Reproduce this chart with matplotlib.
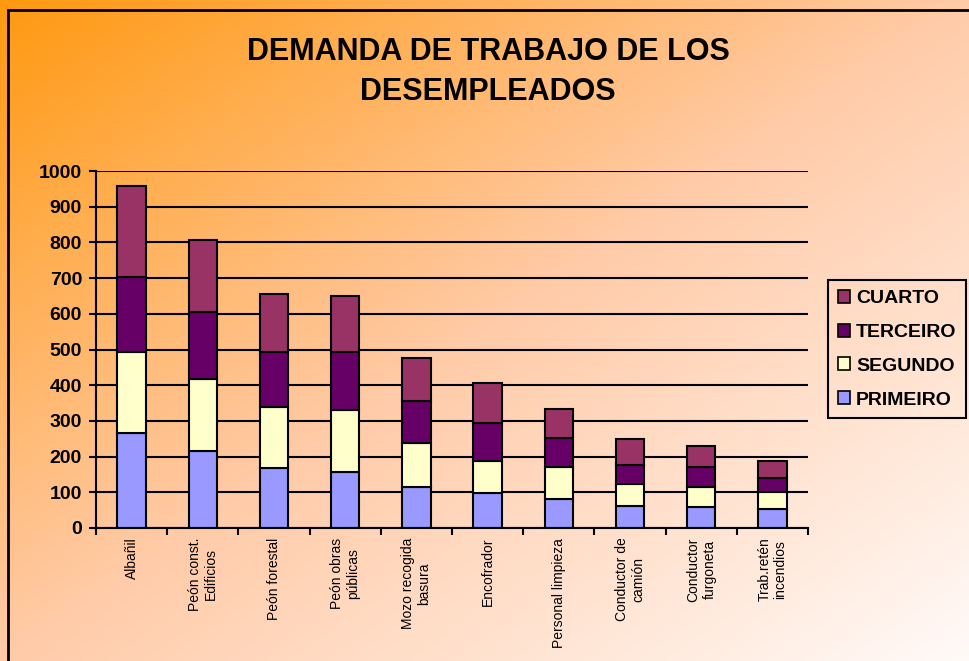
import numpy as np
import matplotlib
matplotlib.use("Agg")
import matplotlib.pyplot as plt
from matplotlib.colors import LinearSegmentedColormap
from matplotlib.patches import Rectangle, Patch

plt.rcParams['font.family'] = ['Liberation Sans', 'DejaVu Sans']

# data
categories = ['Albañil', 'Peón const.\nEdificios', 'Peón forestal', 'Peón obras\npúblicas',
              'Mozo recogida\nbasura', 'Encofrador', 'Personal limpieza',
              'Conductor de\ncamión', 'Conductor\nfurgoneta', 'Trab.retén\nincendios']
primeiro = [265, 216, 169, 158, 114, 98, 81, 63, 58, 54]
segundo = [227, 201, 171, 173, 125, 91, 91, 59, 57, 46]
terceiro = [212, 187, 154, 161, 118, 105, 81, 55, 57, 40]
cuarto = [254, 203, 161, 158, 118, 111, 79, 73, 59, 49]

series = [('PRIMEIRO', primeiro, '#9999FF'),
          ('SEGUNDO', segundo, '#FFFFCC'),
          ('TERCEIRO', terceiro, '#660066'),
          ('CUARTO', cuarto, '#993366')]

W, H = 969, 661
fig = plt.figure(figsize=(W / 100, H / 100), dpi=100)

# diagonal gradient background
bg = fig.add_axes([0, 0, 1, 1], zorder=-10)
xx, yy = np.meshgrid(np.linspace(0, 1, 400), np.linspace(0, 1, 300))
t = (xx + yy) / 2
cmap = LinearSegmentedColormap.from_list('bg', ['#FF9910', '#FFCBA8', '#FFFAF8'])
bg.imshow(t, cmap=cmap, aspect='auto', extent=[0, 1, 1, 0], vmin=0, vmax=1)
bg.set_xlim(0, 1)
bg.set_ylim(1, 0)
bg.axis('off')

# chart frame
fig.patches.append(Rectangle((8 / W, -0.1), 1.2, 1 - 10 / H + 0.1, transform=fig.transFigure,
                             fill=False, edgecolor='black', linewidth=2, zorder=5))

ax = fig.add_axes([96 / W, 1 - 528 / H, 712 / W, 357 / H])
ax.patch.set_alpha(0)

x = np.arange(len(categories)) + 0.5
bottom = np.zeros(len(categories))
handles = []
for name, vals, col in series:
    ax.bar(x, vals, width=0.4, bottom=bottom, color=col, edgecolor='black',
           linewidth=1.5, zorder=3)
    bottom += np.array(vals)
    handles.append(Patch(facecolor=col, edgecolor='black', linewidth=1.2, label=name))

ax.set_xlim(0, len(categories))
ax.set_ylim(0, 1000)
ax.set_yticks(range(0, 1001, 100))
ax.tick_params(axis='y', labelsize=14, width=1.5, length=5, pad=5)
for lab in ax.get_yticklabels():
    lab.set_fontweight('bold')
ax.yaxis.grid(True, color='black', linewidth=1.5, zorder=1)

ax.set_xticks(np.arange(len(categories) + 1), minor=True)
ax.set_xticks(x)
ax.set_xticklabels(categories, rotation=90, fontsize=10, va='top', ha='center',
                   multialignment='center')
ax.tick_params(axis='x', which='major', length=0, pad=7)
ax.tick_params(axis='x', which='minor', length=5, width=1.5)

for s in ['top', 'right']:
    ax.spines[s].set_visible(False)
for s in ['left', 'bottom']:
    ax.spines[s].set_linewidth(1.5)
    ax.spines[s].set_zorder(4)

fig.text(488 / W, 1 - 72 / H, 'DEMANDA DE TRABAJO DE LOS\nDESEMPLEADOS', ha='center',
         va='center', fontsize=22, fontweight='bold', linespacing=1.45)

leg = fig.legend(handles=handles[::-1], loc='upper left',
                 bbox_to_anchor=(828 / W, 1 - 280 / H), frameon=True, fancybox=False,
                 edgecolor='black', facecolor='none', framealpha=1,
                 prop={'size': 14, 'weight': 'bold'},
                 handlelength=0.65, handleheight=0.65, handletextpad=0.3,
                 labelspacing=0.85, borderpad=0.5, borderaxespad=0)
leg.get_frame().set_linewidth(1.5)

fig.savefig('out.png', dpi=100)
